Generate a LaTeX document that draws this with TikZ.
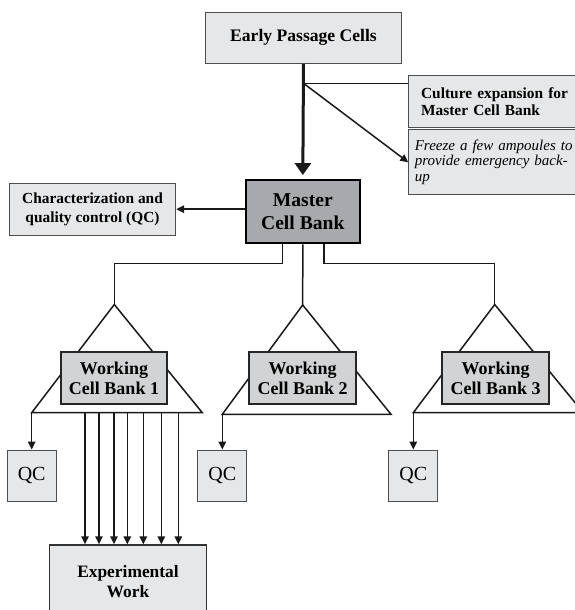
\documentclass[tikz,border=0pt]{standalone}
\usepackage{fontspec}
\setmainfont{Liberation Serif}
\usetikzlibrary{arrows.meta}
\definecolor{paleGray}{HTML}{E6E7E8}
\definecolor{midGray}{HTML}{D1D3D4}
\definecolor{darkGray}{HTML}{A7A9AC}
\definecolor{edgeGray}{HTML}{4D4E50}

\begin{document}
\begin{tikzpicture}[x=1pt,y=-1pt,
  pale/.style={draw=edgeGray, fill=paleGray, line width=1pt, inner sep=0pt, align=center},
  bank/.style={draw=black!85, fill=midGray, line width=1.8pt, inner sep=0pt, align=center,
    minimum width=106.7pt, minimum height=52pt, font=\bfseries\fontsize{18}{20}\selectfont},
  qcbox/.style={pale, minimum width=49pt, minimum height=51.7pt, font=\fontsize{20}{22}\selectfont},
  link/.style={line width=1.5pt, black!90},
  arr/.style={link, -{Triangle[length=8pt,width=7.5pt]}},
  bigarr/.style={line width=3pt, black!90, -{Triangle[length=12pt,width=16pt]}}]

  \useasboundingbox (0,0) rectangle (574,610);

  % Triangles round the working banks
  \coordinate (a1) at (114.3,304.5);
  \coordinate (a2) at (302.7,305);
  \coordinate (a3) at (494.7,304.5);
  \draw[link] (a1) -- ++(-82.6,108.2) coordinate (b1l) -- ++(170.6,0) coordinate (b1r) -- cycle;
  \draw[link] (a2) -- ++(-80.4,109.3) coordinate (b2l) -- ++(168.7,0) coordinate (b2r) -- cycle;
  \draw[link] (a3) -- ++(-81.4,108.2) coordinate (b3l) -- ++(170,0) coordinate (b3r) -- cycle;

  % Boxes on top
  \node[pale, minimum width=196.4pt, minimum height=51.3pt,
    font=\bfseries\fontsize{17.6}{20}\selectfont] (early) at (303.5,37.7) {Early Passage Cells};
  \node[pale, anchor=north west, inner xsep=12.3pt, text width=155.4pt, align=left, minimum height=51.7pt,
    font=\bfseries\fontsize{15.4}{16.7}\selectfont] (culture) at (408.3,75) {Culture expansion for\\Master Cell Bank};
  \node[pale, anchor=north west, inner xsep=6pt, text width=168pt, align=left, minimum height=65pt,
    font=\itshape\fontsize{15}{15.2}\selectfont] (freeze) at (408.3,129.3) {Freeze a few ampoules to\\provide emergency back-\\up};
  \node[draw=black, fill=darkGray, line width=2pt, inner sep=0pt, align=center, minimum width=114.5pt,
    minimum height=63.3pt, font=\bfseries\fontsize{19.6}{22.3}\selectfont] (master) at (302.8,211.7) {Master\\Cell Bank};
  \node[pale, minimum width=166.4pt, minimum height=51.7pt,
    font=\bfseries\fontsize{15.4}{19.3}\selectfont] (charqc) at (92.5,209.2) {Characterization and\\quality control (QC)};

  \node[bank] (wcb1) at (114,378) {Working\\Cell Bank 1};
  \node[bank] (wcb2) at (302.7,378) {Working\\Cell Bank 2};
  \node[bank] (wcb3) at (495.7,378) {Working\\Cell Bank 3};

  \node[qcbox] (qc1) at (b1l |- 0,475.9) {QC};
  \node[qcbox] (qc2) at (b2l |- 0,475.9) {QC};
  \node[qcbox] (qc3) at (b3l |- 0,475.9) {QC};

  \node[pale, draw=black!80, line width=1.4pt, minimum width=157.4pt, minimum height=73pt,
    font=\bfseries\fontsize{17.4}{20}\selectfont] (exp) at (128,581.5) {Experimental\\Work};

  % Early passage down to the master bank
  \draw[bigarr, shorten >=4pt] (early.south) -- (master.north);
  \coordinate (split) at (early.south |- 0,83.3);
  \draw[link] (split) -- (split -| culture.west);
  \draw[arr] (split) -- (freeze.west);

  % Master bank out to QC and the working banks
  \draw[arr] (master.west |- charqc.east) -- (charqc.east);
  \draw[link] ([xshift=-20.1pt]master.south) -- ++(0,19) -| (a1);
  \draw[link] (master.south) -- (a2);
  \draw[link] ([xshift=21.2pt]master.south) -- ++(0,19) -| (a3);

  % Working banks to QC
  \draw[arr] (b1l) -- (qc1.north);
  \draw[arr] (b2l) -- (qc2.north);
  \draw[arr] (b3l) -- (qc3.north);

  % Working bank 1 to experimental work
  \draw[arr] (b1l -| 85,0) -- (exp.north -| 85,0);
  \draw[arr] (b1l -| 99,0) -- (exp.north -| 99,0);
  \draw[arr] (b1l -| 114,0) -- (exp.north -| 114,0);
  \draw[arr] (b1l -| 127.3,0) -- (exp.north -| 127.3,0);
  \draw[arr] (b1l -| 143.3,0) -- (exp.north -| 143.3,0);
  \draw[arr] (b1l -| 161.3,0) -- (exp.north -| 161.3,0);
  \draw[arr] (b1l -| 178.3,0) -- (exp.north -| 178.3,0);

\end{tikzpicture}
\end{document}
